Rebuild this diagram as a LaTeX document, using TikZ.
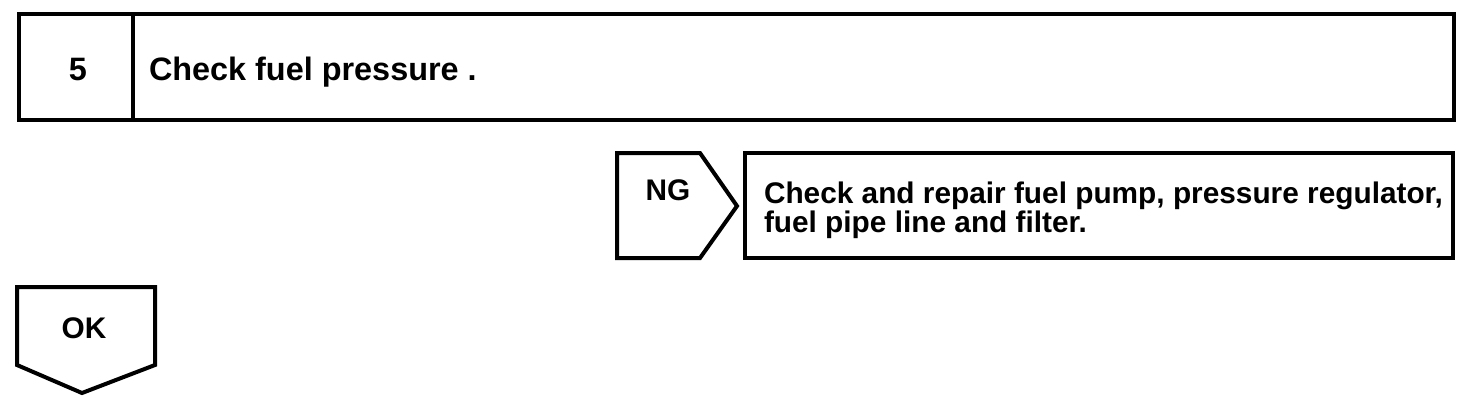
\documentclass[tikz,border=0pt]{standalone}
\usepackage{fontspec}
\setmainfont{Liberation Sans}
\usepackage{tikz}

\begin{document}
\begin{tikzpicture}[x=0.5pt, y=-0.5pt, line width=2pt, line join=miter,
  headtext/.style={font=\bfseries\fontsize{16.2}{16}\selectfont, inner sep=0pt},
  boxtext/.style={font=\bfseries\fontsize{14.9}{14.3}\selectfont, inner sep=0pt,
                  align=left}]

  \useasboundingbox (0,0) rectangle (1472,408);

  %% Step header
  \draw (19,14) rectangle (1454,120);
  \draw (133,14) -- (133,120);
  \node[headtext] (num) at (78,70) {5};
  \node[headtext, anchor=base west] (title) at (147,80) {Check fuel pressure .};

  %% NG branch
  \draw (617,153) -- (700,153) -- (737,206) -- (700,258) -- (617,258) -- cycle;
  \node[boxtext] (ng) at (668,190) {NG};
  \draw (745,153) rectangle (1453,258);
  \node[boxtext, anchor=north west] (fix) at (762,180)
    {Check and repair fuel pump, pressure regulator,\\fuel pipe line and filter.};

  %% OK branch
  \draw (17,287) -- (155,287) -- (155,365) -- (82,393) -- (17,365) -- cycle;
  \node[boxtext] (ok) at (84,328) {OK};

\end{tikzpicture}
\end{document}
